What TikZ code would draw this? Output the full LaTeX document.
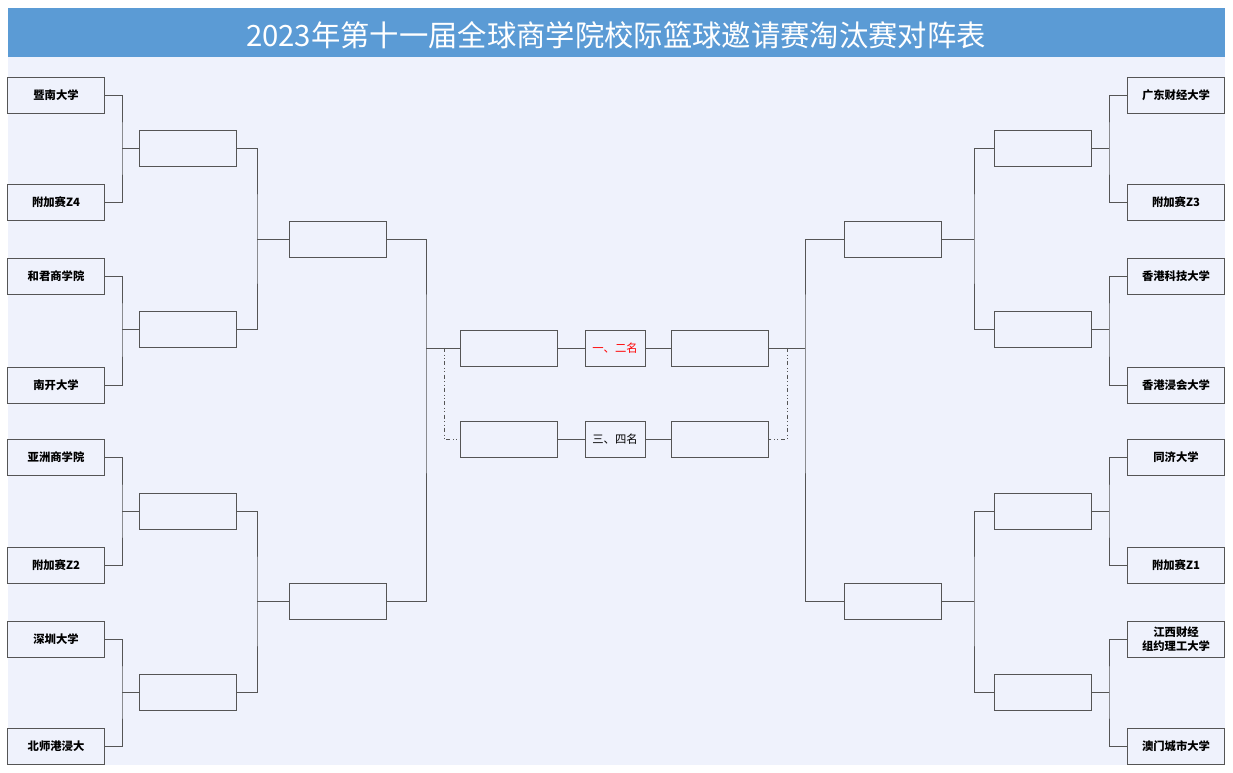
\documentclass[tikz,border=0pt]{standalone}
\usepackage{fontspec}
\setmainfont{Liberation Serif}
\newfontfamily\cjk{Noto Sans CJK SC}
\usetikzlibrary{positioning,calc}
\definecolor{barblue}{HTML}{5B9BD5}
\definecolor{panel}{HTML}{EFF2FC}
\definecolor{edge}{HTML}{555555}
\tikzset{
  box/.style={draw=edge, fill=panel, minimum width=73pt, minimum height=27pt, inner sep=0pt},
  team/.style={box, font=\cjk\bfseries\fontsize{8.5}{10}\selectfont, align=center},
  place/.style={draw=edge, fill=panel, minimum width=45pt, minimum height=27pt, inner sep=0pt, font=\cjk\fontsize{8.5}{10}\selectfont},
  link/.style={draw=edge, line width=0.5pt},
  spare/.style={draw=edge, line width=0.5pt, dash dot dot}
}
\begin{document}
\begin{tikzpicture}[x=0.75pt, y=-0.75pt]
\useasboundingbox (0,0) rectangle (1233,773);
\fill[white] (0,0) rectangle (1233,773);
% Title bar and panel
\fill[panel] (8,57) rectangle (1225,765);
\fill[barblue] (8,8) rectangle (1225,57);
\node[font=\cjk\fontsize{22}{26}\selectfont, text=white] (title) at (616,35) {2023年第十一届全球商学院校际篮球邀请赛淘汰赛对阵表};

% Teams, left side
\foreach \name/\y [count=\i] in {暨南大学/95, 附加赛Z4/202, 和君商学院/276, 南开大学/385,
  亚洲商学院/457, 附加赛Z2/565, 深圳大学/639, 北师港浸大/746}
  \node[team] (l\i) at (56,\y) {\name};
% Teams, right side
\foreach \name/\y [count=\i] in {广东财经大学/95, 附加赛Z3/202, 香港科技大学/276, 香港浸会大学/385,
  同济大学/457, 附加赛Z1/565, {江西财经\\组约理工大学}/639, 澳门城市大学/746}
  \node[team] (r\i) at (1176,\y) {\name};

% Round of 16 and quarter final boxes
\foreach \y [count=\i] in {148,329,511,692} {
  \node[box] (la\i) at (188,\y) {};
  \node[box] (ra\i) at (1043,\y) {};
}
\foreach \y [count=\i] in {239,601} {
  \node[box] (lb\i) at (338,\y) {};
  \node[box] (rb\i) at (893,\y) {};
}

% Finals
\node[box] (lf) at (509,348) {};
\node[box] (rf) at (720,348) {};
\node[box] (lt) at (509,439) {};
\node[box] (rt) at (720,439) {};
\node[place, text=red] (first) at (615,348) {一、二名};
\node[place] (third) at (615,439) {三、四名};

% Bracket lines
\foreach \a/\b/\c in {1/2/1, 3/4/2, 5/6/3, 7/8/4} {
  \draw[link] (l\a.east) -| (122,0 |- la\c.west) |- (l\b.east);
  \draw[link] (122,0 |- la\c.west) -- (la\c.west);
  \draw[link] (r\a.west) -| (1109,0 |- ra\c.east) |- (r\b.west);
  \draw[link] (1109,0 |- ra\c.east) -- (ra\c.east);
}
\foreach \a/\b/\c in {1/2/1, 3/4/2} {
  \draw[link] (la\a.east) -| (257,0 |- lb\c.west) |- (la\b.east);
  \draw[link] (257,0 |- lb\c.west) -- (lb\c.west);
  \draw[link] (ra\a.west) -| (974,0 |- rb\c.east) |- (ra\b.west);
  \draw[link] (974,0 |- rb\c.east) -- (rb\c.east);
}
\draw[link] (lb1.east) -| (426,0 |- lf.west) |- (lb2.east);
\draw[link] (426,0 |- lf.west) -- (lf.west);
\draw[link] (rb1.west) -| (805,0 |- rf.east) |- (rb2.west);
\draw[link] (805,0 |- rf.east) -- (rf.east);
\draw[link] (lf) -- (first) -- (rf);
\draw[link] (lt) -- (third) -- (rt);
\draw[spare] (444,0 |- lf.west) |- (lt.west);
\draw[spare] (787,0 |- rf.east) |- (rt.east);
\end{tikzpicture}
\end{document}
